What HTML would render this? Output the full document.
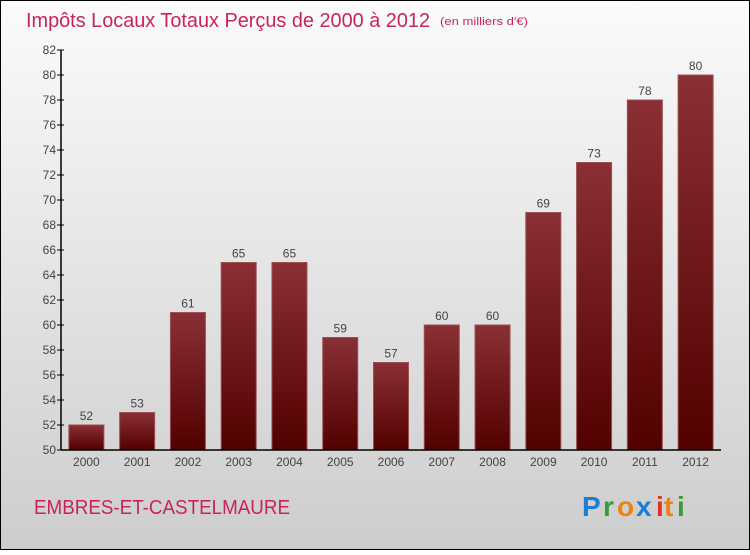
<!DOCTYPE html>
<html><head><meta charset="utf-8"><style>
html,body{margin:0;padding:0;}
body{width:750px;height:550px;overflow:hidden;font-family:"Liberation Sans",sans-serif;}
</style></head><body>
<svg width="750" height="550" xmlns="http://www.w3.org/2000/svg">
<defs>
<linearGradient id="bg" x1="0" y1="0" x2="0" y2="1"><stop offset="0" stop-color="#fbfbfb"/><stop offset="1" stop-color="#cdcdcd"/></linearGradient>
<linearGradient id="bar" x1="0" y1="0" x2="0" y2="1"><stop offset="0" stop-color="#8a3035"/><stop offset="1" stop-color="#520000"/></linearGradient>
</defs>
<rect x="0.5" y="0.5" width="749" height="549" fill="url(#bg)" stroke="#000"/>
<text x="26" y="27" font-size="20" fill="#c8245a" textLength="404" lengthAdjust="spacingAndGlyphs">Impôts Locaux Totaux Perçus de 2000 à 2012</text>
<text x="440" y="25" font-size="11" fill="#c8245a" textLength="88" lengthAdjust="spacingAndGlyphs">(en milliers d'€)</text>
<g id="bars"></g>
<g id="axes"></g>
<text x="34" y="514" font-size="20" fill="#c8245a" textLength="256" lengthAdjust="spacingAndGlyphs">EMBRES-ET-CASTELMAURE</text>
<g font-size="28" font-weight="bold" font-family="Liberation Sans, sans-serif">
<text x="582" y="516" fill="#1a7fd4">P</text><text x="603" y="516" fill="#3a9b3a">r</text><text x="617" y="516" fill="#f08010">o</text><text x="636" y="516" fill="#1a7fd4">x</text><text x="656" y="516" fill="#e03020">i</text><text x="664" y="516" fill="#f08010">t</text><text x="677" y="516" fill="#3a9b3a">i</text>
</g>
</svg>
<script>
const categories=["2000","2001","2002","2003","2004","2005","2006","2007","2008","2009","2010","2011","2012"];
const values=[52,53,61,65,65,59,57,60,60,69,73,78,80];
const yTicks=[50,52,54,56,58,60,62,64,66,68,70,72,74,76,78,80,82];
const NS="http://www.w3.org/2000/svg";
const x0=61,x1=721,yMin=50,yMax=82,py0=450,py1=50;
const band=(x1-x0)/categories.length;
const y=v=>py0-(v-yMin)/(yMax-yMin)*(py0-py1);
function mk(tag,attrs,parent,text){const e=document.createElementNS(NS,tag);for(const k in attrs)e.setAttribute(k,attrs[k]);if(text!==undefined)e.textContent=text;parent.appendChild(e);return e;}
const bars=document.getElementById('bars'),axes=document.getElementById('axes');
categories.forEach((c,i)=>{
 const cx=x0+band*(i+0.5),bw=35;
 const r=mk('rect',{x:cx-bw/2,y:y(values[i]),width:bw,height:py0-y(values[i]),fill:'url(#bar)',stroke:'#9a5055','stroke-width':1},bars);
 
 
 const t=mk('text',{x:cx,y:y(values[i])-5,'text-anchor':'middle','font-size':12,fill:'#444'},bars,values[i]);
 
 
 const xl=mk('text',{x:cx,y:466,'text-anchor':'middle','font-size':12,fill:'#444'},axes,c);
 
 
});
yTicks.forEach(v=>{
 mk('line',{x1:x0-4,x2:x0+3,y1:y(v),y2:y(v),stroke:'#000'},axes);
 const t=mk('text',{x:x0-5,y:y(v)+4,'text-anchor':'end','font-size':12,fill:'#444'},axes,v);
 
 
});
const ya=mk('line',{x1:x0,x2:x0,y1:py1,y2:py0,stroke:'#000','stroke-width':1.5},axes);


const xa=mk('line',{x1:x0,x2:x1,y1:py0,y2:py0,stroke:'#000','stroke-width':1.5},axes);


</script>
</body></html>
